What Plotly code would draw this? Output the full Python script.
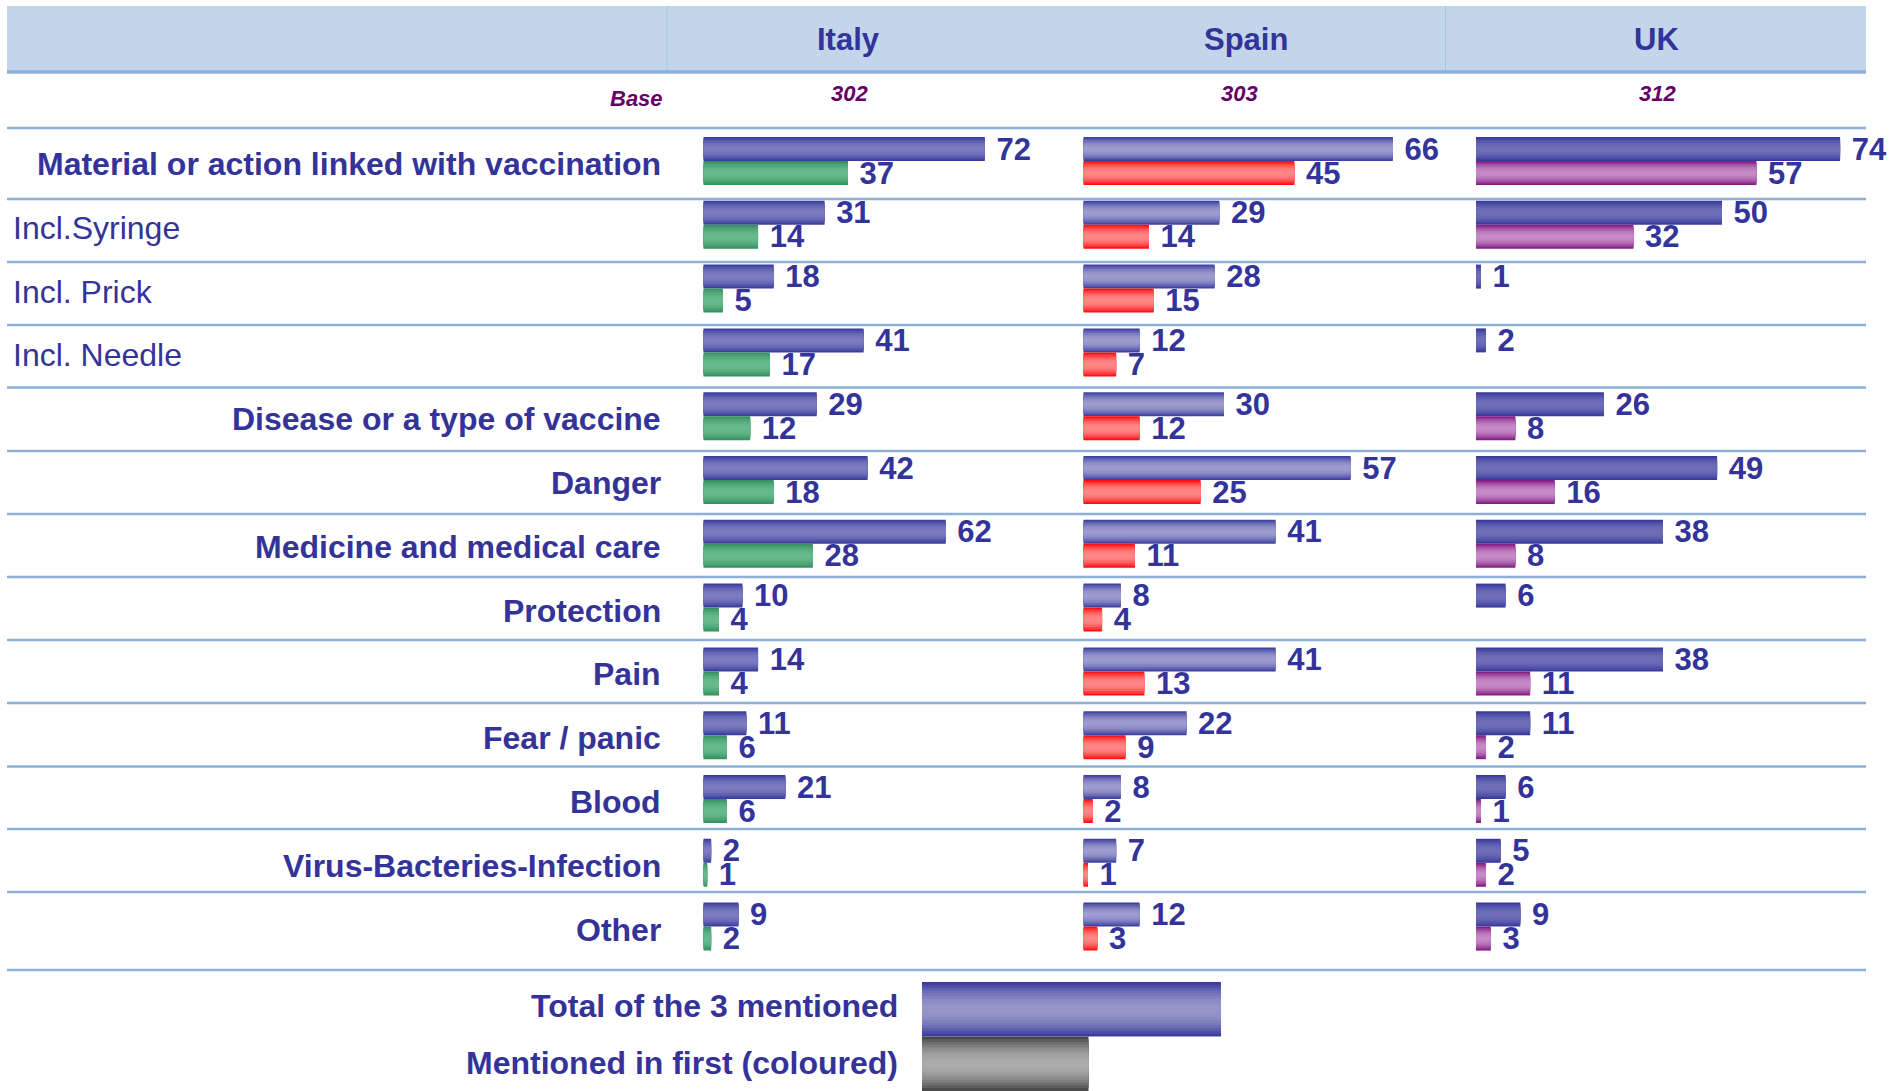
"""Word association with vaccination: total of 3 mentions vs first mention, by country."""

import plotly.graph_objects as go

W, H = 1892, 1091

# --- data -----------------------------------------------------------------

categories = [
    "Material or action linked with vaccination",
    "Incl.Syringe",
    "Incl. Prick",
    "Incl. Needle",
    "Disease or a type of vaccine",
    "Danger",
    "Medicine and medical care",
    "Protection",
    "Pain",
    "Fear / panic",
    "Blood",
    "Virus-Bacteries-Infection",
    "Other",
]
countries = ["Italy", "Spain", "UK"]
bases = [302, 303, 312]

italy_total = [72, 31, 18, 41, 29, 42, 62, 10, 14, 11, 21, 2, 9]
italy_first = [37, 14, 5, 17, 12, 18, 28, 4, 4, 6, 6, 1, 2]
spain_total = [66, 29, 28, 12, 30, 57, 41, 8, 41, 22, 8, 7, 12]
spain_first = [45, 14, 15, 7, 12, 25, 11, 4, 13, 9, 2, 1, 3]
uk_total = [74, 50, 1, 2, 26, 49, 38, 6, 38, 11, 6, 5, 9]
uk_first = [57, 32, None, None, 8, 16, 8, None, 11, 2, 1, 2, 3]

legend_labels = ["Total of the 3 mentioned", "Mentioned in first (coloured)"]

# --- styling / layout -----------------------------------------------------

FONT = "Liberation Sans, Arial, sans-serif"
TEXT = "#333399"
PURPLE = "#660066"
RULE = "#8DAFD8"
BAND = "#C3D5EA"

# pixel origin, pixels per percent point, right end of panel
PANELS = [(703.3, 3.91, 1083.3), (1083.3, 4.69, 1476.0), (1476.0, 4.92, W)]
HEADER_X = [848, 1246, 1656]
BASE_X = [849, 1239, 1657]

ROW_TOP = 161.0      # px of first row's bar split
ROW_PITCH = 63.8     # px between rows
BAR_H = 24 / ROW_PITCH
RULES_Y = [128, 199, 262, 325, 387.5, 451, 514, 577, 640, 703, 766.5, 829, 892, 970]

TOTAL_EDGE = "#333399"
TOTAL_CENTRE = ["#7C7CC0", "#9C9CD0", "#6E6EB8"]
FIRST_EDGE = ["#2E8B57", "#FF0000", "#7B0F7B"]
FIRST_CENTRE = ["#66BA8E", "#FF8888", "#C68AC6"]


def px(x):
    return x / W


def py(y):
    return 1 - y / H


def _mix(c1, c2, t):
    a = [int(c1[i:i + 2], 16) for i in (1, 3, 5)]
    b = [int(c2[i:i + 2], 16) for i in (1, 3, 5)]
    return "rgb({}, {}, {})".format(*[round(p + (q - p) * t) for p, q in zip(a, b)])


def _layers(edge, centre, n=8):
    """(fraction of thickness, colour) pairs approximating an edge->centre gradient."""
    out = []
    for k in range(n):
        frac = 1 - k / n
        d = frac - 0.5 / n
        out.append((frac, _mix(centre, edge, d ** 2)))
    return out


def _note(x, y, text, size, color, xanchor="center"):
    """Paper-positioned text given in pixels from the top-left corner."""
    fig.add_annotation(x=px(x), y=py(y), xref="paper", yref="paper", xanchor=xanchor, yanchor="middle",
                       text=text, showarrow=False, font={"family": FONT, "size": size, "color": color})


fig = go.Figure()

series = [
    (italy_total, italy_first),
    (spain_total, spain_first),
    (uk_total, uk_first),
]

for ci, (totals, firsts) in enumerate(series):
    xa = "x" if ci == 0 else f"x{ci + 1}"
    for values, shift, edge, centre in [
        (totals, -BAR_H / 2, TOTAL_EDGE, TOTAL_CENTRE[ci]),
        (firsts, BAR_H / 2, FIRST_EDGE[ci], FIRST_CENTRE[ci]),
    ]:
        ys = [i + shift for i in range(len(categories))]
        labels = ["" if v is None else f"\u00a0{v}" for v in values]
        for k, (frac, colour) in enumerate(_layers(edge, centre)):
            fig.add_trace(
                go.Bar(
                    x=values,
                    y=ys,
                    orientation="h",
                    width=BAR_H * frac,
                    marker={"color": colour, "line": {"width": 0}},
                    text=labels if k == 0 else None,
                    textposition="outside" if k == 0 else "none",
                    textangle=0,
                    constraintext="none",
                    cliponaxis=False,
                    outsidetextfont={"family": FONT, "size": 31, "color": TEXT, "weight": "bold"},
                    xaxis=xa,
                    yaxis="y",
                    showlegend=False,
                    hoverinfo="skip",
                )
            )

# axes: one x axis per country panel, shared y axis of row indices
axis_common = {"visible": False, "fixedrange": True, "anchor": "y"}
for ci, (x0, scale, x1) in enumerate(PANELS):
    key = "xaxis" if ci == 0 else f"xaxis{ci + 1}"
    fig.layout[key] = dict(axis_common, domain=[px(x0), px(x1)], range=[0, (x1 - x0) / scale])

fig.update_layout(
    yaxis={
        "visible": False,
        "fixedrange": True,
        "domain": [0, 1],
        "range": [(H - ROW_TOP) / ROW_PITCH, -ROW_TOP / ROW_PITCH],
    },
    barmode="overlay",
    width=W,
    height=H,
    margin={"l": 0, "r": 0, "t": 0, "b": 0},
    paper_bgcolor="white",
    plot_bgcolor="white",
)

shapes = []
# header band
shapes.append(dict(type="rect", xref="paper", yref="paper", x0=px(7), x1=px(1866), y0=py(72), y1=py(6),
                   fillcolor=BAND, line={"width": 0}, layer="below"))
for xd in (667, 1445.5):
    shapes.append(dict(type="line", xref="paper", yref="paper", x0=px(xd), x1=px(xd), y0=py(72), y1=py(6),
                       line={"color": "#A9C2E0", "width": 1}, layer="below"))
shapes.append(dict(type="line", xref="paper", yref="paper", x0=px(7), x1=px(1866), y0=py(72), y1=py(72),
                   line={"color": RULE, "width": 3.5}))
for yr in RULES_Y:
    shapes.append(dict(type="line", xref="paper", yref="paper", x0=px(7), x1=px(1866), y0=py(yr), y1=py(yr),
                       line={"color": RULE, "width": 2.5}, layer="below"))

# legend swatches
legend_swatches = [
    (922, 1221, 982, 1036.5, TOTAL_EDGE, "#9595CA"),
    (922, 1088.5, 1036.5, 1091, "#404040", "#ABABAB"),
]
for x0, x1, y0, y1, edge, centre in legend_swatches:
    cy, hh = (y0 + y1) / 2, (y1 - y0) / 2
    for frac, colour in _layers(edge, centre, n=10):
        shapes.append(dict(type="rect", xref="paper", yref="paper", x0=px(x0), x1=px(x1),
                           y0=py(cy + hh * frac), y1=py(cy - hh * frac),
                           fillcolor=colour, line={"width": 0}))
fig.update_layout(shapes=shapes)

# header and base row
for name, xh, base, xb in zip(countries, HEADER_X, bases, BASE_X):
    _note(xh, 39, f"<b>{name}</b>", 31, TEXT)
    _note(xb, 93, f"<b><i>{base}</i></b>", 22, PURPLE)
_note(665, 99, "<b><i>Base</i></b>", 22, PURPLE, xanchor="right")

# row labels: sub-items ("Incl. ...") left aligned and regular weight
for i, cat in enumerate(categories):
    sub = cat.startswith("Incl.")
    fig.add_annotation(
        x=px(11) if sub else px(663),
        xref="paper",
        xanchor="left" if sub else "right",
        y=i,
        yref="y",
        yanchor="middle",
        yshift=-3,
        text=cat if sub else f"<b>{cat}</b>",
        showarrow=False,
        font={"family": FONT, "size": 32, "color": TEXT},
    )

# legend labels
for label, yl in zip(legend_labels, (1006, 1063)):
    _note(900, yl, f"<b>{label}</b>", 32, TEXT, xanchor="right")

fig.write_html(
    "out.html",
    config={"displayModeBar": False},
    post_script="document.body.style.margin='0';",
)
